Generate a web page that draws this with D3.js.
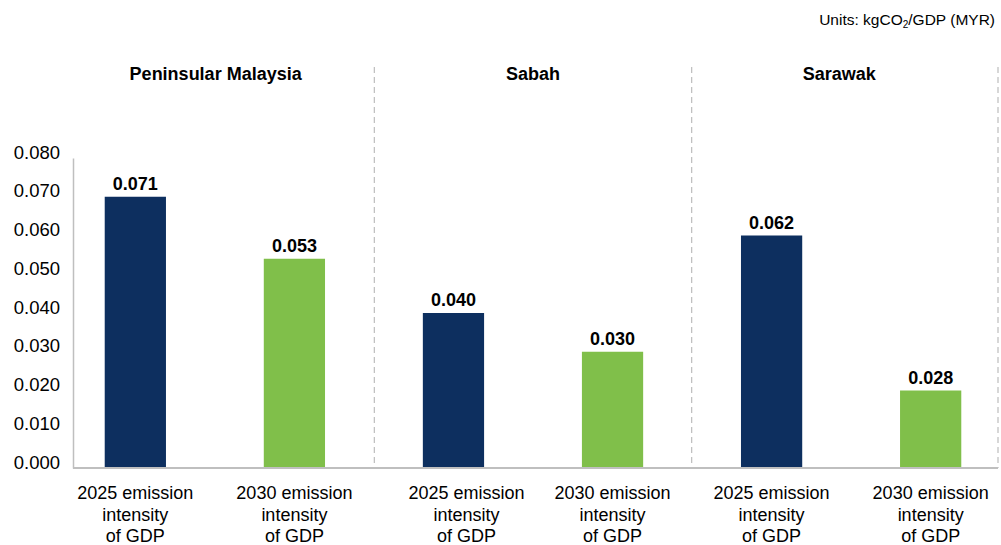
<!DOCTYPE html>
<html>
<head>
<meta charset="utf-8">
<script src="https://cdn.jsdelivr.net/npm/d3@7"></script>
<style>
  body { margin: 0; background: #fff; }
  svg text { font-family: "Liberation Sans", Arial, sans-serif; fill: #000; }
</style>
</head>
<body>
<div id="chart"></div>
<script>
// regions, categories and values
const regions = ["Peninsular Malaysia", "Sabah", "Sarawak"];
const series = ["2025 emission intensity of GDP", "2030 emission intensity of GDP"];
const catLines = [["2025 emission", "intensity", "of GDP"], ["2030 emission", "intensity", "of GDP"]];
// bar heights as drawn in the picture
const barValues = [0.070, 0.054, 0.040, 0.030, 0.060, 0.020];
// labels as printed above the bars
const barLabels = ["0.071", "0.053", "0.040", "0.030", "0.062", "0.028"];
const yTicks = [0, 0.01, 0.02, 0.03, 0.04, 0.05, 0.06, 0.07, 0.08];
const colors = ["#0d2f5f", "#80bf4a"];

const width = 1001, height = 545;
const margin = {top: 158, bottom: 77, left: 73, right: 3};

const svg = d3.select("#chart")
  .append("svg")
    .attr("width", width)
    .attr("height", height);

const bars = regions.flatMap((r, i) => series.map((s, j) => ({
  region: r, s: j, key: r + "|" + j,
  value: barValues[i * 2 + j], label: barLabels[i * 2 + j]
})));

// x: one band per bar
const x = d3.scaleBand()
  .domain(bars.map(d => d.key))
  .range([57, 1009])
  .paddingInner(0.615)
  .paddingOuter(0.3);

const xGroup = d3.scaleBand()
  .domain(regions)
  .range([57, 1009]);

const y = d3.scaleLinear()
  .domain([0, 0.08])
  .range([height - margin.bottom, margin.top]);

const y0 = y(0);

// dashed region dividers
svg.append("g")
  .selectAll("line")
  .data([xGroup("Sabah"), xGroup("Sarawak"), width - margin.right])
  .join("line")
    .attr("x1", d => d).attr("x2", d => d)
    .attr("y1", 67).attr("y2", y0)
    .attr("stroke", "#bdbdbd")
    .attr("stroke-width", 1.2)
    .attr("stroke-dasharray", "6,4");

// y axis
const yAxis = svg.append("g")
  .attr("transform", `translate(${margin.left},0)`)
  .call(d3.axisLeft(y).tickValues(yTicks).tickFormat(d3.format(".3f")).tickSize(0).tickPadding(13));
yAxis.select(".domain").attr("stroke", "#bfbfbf").attr("stroke-width", 1.5);
yAxis.selectAll("text")
  .attr("dy", "0")
  .style("font-size", "18.5px")
  .style("font-family", "'Liberation Sans', Arial, sans-serif")
  .attr("fill", "#000");

// bars
svg.append("g")
  .selectAll("rect")
  .data(bars)
  .join("rect")
    .attr("x", d => x(d.key))
    .attr("y", d => y(d.value))
    .attr("width", x.bandwidth())
    .attr("height", d => y0 - y(d.value))
    .attr("fill", d => colors[d.s]);

// baseline
svg.append("line")
  .attr("x1", margin.left).attr("x2", width - margin.right)
  .attr("y1", y0).attr("y2", y0)
  .attr("stroke", "#bfbfbf")
  .attr("stroke-width", 2);

// value labels
svg.append("g")
  .selectAll("text")
  .data(bars)
  .join("text")
    .attr("x", d => x(d.key) + x.bandwidth() / 2)
    .attr("y", d => y(d.value) - 7)
    .attr("text-anchor", "middle")
    .style("font-size", "18px")
    .style("font-weight", "bold")
    .text(d => d.label);

// category labels (the Sabah 2025 label sits a little right of its bar in the original)
const catX = d => x(d.key) + x.bandwidth() / 2 + (d.region === "Sabah" && d.s === 0 ? 13 : 0);
const cat = svg.append("g")
  .selectAll("text")
  .data(bars)
  .join("text")
    .attr("x", catX)
    .attr("y", y0 + 31)
    .attr("text-anchor", "middle")
    .style("font-size", "18px");
cat.selectAll("tspan")
  .data(d => catLines[d.s].map(t => ({t, x: catX(d)})))
  .join("tspan")
    .attr("x", d => d.x)
    .attr("dy", (d, i) => i ? 21.5 : 0)
    .text(d => d.t);

// region headings
svg.append("g")
  .selectAll("text")
  .data(regions)
  .join("text")
    .attr("x", d => xGroup(d) + xGroup.bandwidth() / 2 - (d === "Sarawak" ? 11 : 0))
    .attr("y", 80)
    .attr("text-anchor", "middle")
    .style("font-size", "18px")
    .style("font-weight", "bold")
    .text(d => d);

// units note
const units = svg.append("text")
  .attr("x", width - 6)
  .attr("y", 25)
  .attr("text-anchor", "end")
  .style("font-size", "15.5px");
units.append("tspan").text("Units: kgCO");
units.append("tspan").attr("baseline-shift", "-25%").style("font-size", "10px").text("2");
units.append("tspan").text("/GDP (MYR)");
</script>
</body>
</html>
